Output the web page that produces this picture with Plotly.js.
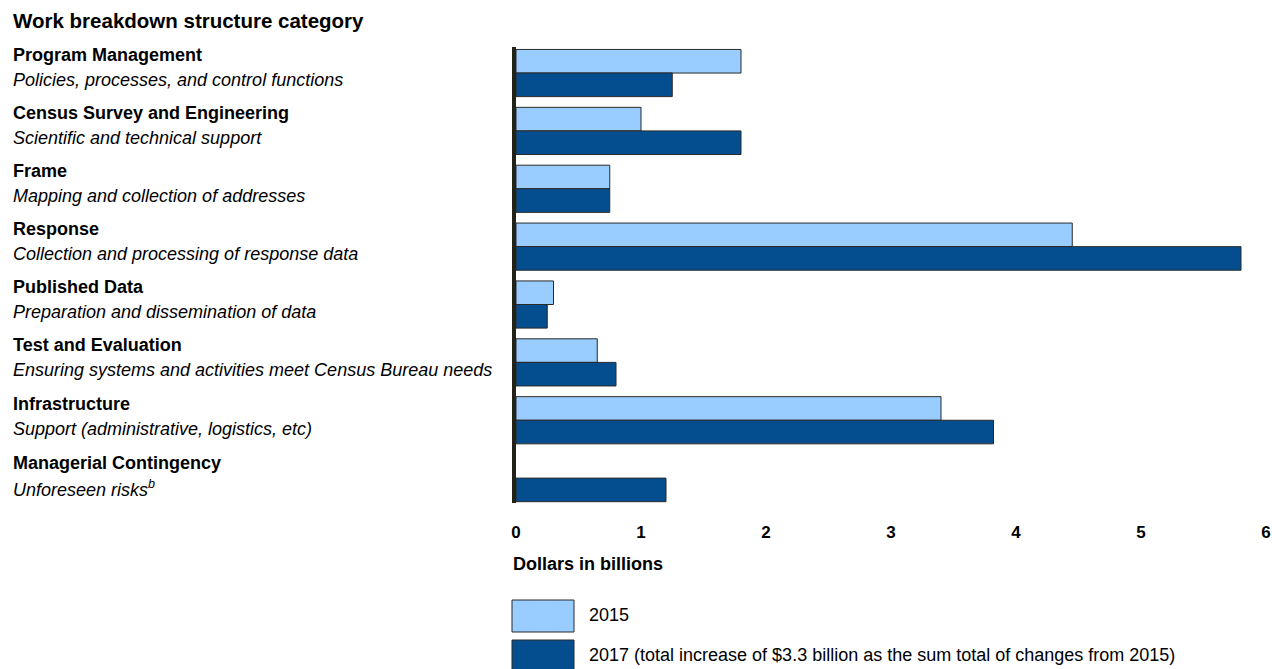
<!DOCTYPE html>
<html>
<head>
<meta charset="utf-8">
<script src="https://cdn.plot.ly/plotly-3.0.1.min.js"></script>
<style>html,body{margin:0;padding:0;background:#fff;}#chart{width:1272px;height:669px;}</style>
</head>
<body>
<div id="chart"></div>
<script>
const categories = ["Program Management","Census Survey and Engineering","Frame","Response","Published Data","Test and Evaluation","Infrastructure","Managerial Contingency"];
const descriptions = ["Policies, processes, and control functions","Scientific and technical support","Mapping and collection of addresses","Collection and processing of response data","Preparation and dissemination of data","Ensuring systems and activities meet Census Bureau needs","Support (administrative, logistics, etc)","Unforeseen risks<sup>b</sup>"];
const values2015 = [1.8, 1.0, 0.75, 4.45, 0.3, 0.65, 3.4, null];
const values2017 = [1.25, 1.8, 0.75, 5.8, 0.25, 0.8, 3.82, 1.2];
const seriesNames = ["2015", "2017 (total increase of $3.3 billion as the sum total of changes from 2015)"];
const xTicks = [0,1,2,3,4,5,6];
const chartTitle = "Work breakdown structure category";
const xTitle = "Dollars in billions";

const colors = ["#99CCFF", "#044E90"];
const font = "Liberation Sans, Arial, sans-serif";

const traces = [values2015, values2017].map((v, i) => ({
  type: "bar", orientation: "h", y: categories, x: v, name: seriesNames[i],
  marker: {color: colors[i], line: {color: "#2a2a2a", width: 1}},
  showlegend: false, hoverinfo: "x"
}));

const leftX = -0.6733;
const annotations = [];
annotations.push({xref:"paper", yref:"paper", x:leftX, y:1, xanchor:"left", yanchor:"bottom", yshift:13,
  text:"<b>"+chartTitle+"</b>", showarrow:false, font:{family:font, size:20.5, color:"#000"}});
categories.forEach((c, i) => {
  annotations.push({xref:"paper", yref:"y", x:leftX, y:c, xanchor:"left", yanchor:"middle", yshift:18 - (i>=5 ? (i-4) : 0),
    text:"<b>"+c+"</b>", showarrow:false, font:{family:font, size:18, color:"#000"}});
  annotations.push({xref:"paper", yref:"y", x:leftX, y:c, xanchor:"left", yanchor:"middle", yshift:-7 - (i>=5 ? (i-4) : 0),
    text:"<i>"+descriptions[i]+"</i>", showarrow:false, font:{family:font, size:18, color:"#000"}});
});
annotations.push({xref:"paper", yref:"paper", x:-0.0067, y:0, xanchor:"left", yanchor:"middle", yshift:-61,
  text:"<b>"+xTitle+"</b>", showarrow:false, font:{family:font, size:18, color:"#000"}});

const shapes = [];
seriesNames.forEach((n, i) => {
  const top = -97 - i*40;
  shapes.push({type:"rect", xref:"paper", yref:"paper", xsizemode:"pixel", ysizemode:"pixel",
    xanchor:0, yanchor:0, x0:-4, x1:58, y0:top, y1:top-32,
    fillcolor:colors[i], line:{color:"#2a2a2a", width:1}});
  annotations.push({xref:"paper", yref:"paper", x:0, y:0, xanchor:"left", yanchor:"middle", xshift:71, yshift:top-15,
    text:n, showarrow:false, font:{family:font, size:18, color:"#000"}});
});

const layout = {
  width:1272, height:669,
  margin:{l:516, r:6, t:47, b:166, pad:0},
  paper_bgcolor:"#fff", plot_bgcolor:"#fff",
  barmode:"group", bargap:0.185, bargroupgap:0,
  font:{family:font, color:"#000"},
  xaxis:{range:[0,6], tickvals:xTicks, showgrid:false, zeroline:false, showline:false,
    ticks:"", ticklabelstandoff:17, tickfont:{family:font, size:17, weight:"bold", color:"#000"}, fixedrange:true},
  yaxis:{autorange:false, range:[7.43,-0.45], showticklabels:false, showgrid:false, zeroline:false,
    showline:true, linewidth:4, linecolor:"#222219", ticks:"", fixedrange:true},
  annotations:annotations, shapes:shapes, showlegend:false
};

Plotly.newPlot("chart", traces, layout, {displayModeBar:false, staticPlot:true});
</script>
</body>
</html>
